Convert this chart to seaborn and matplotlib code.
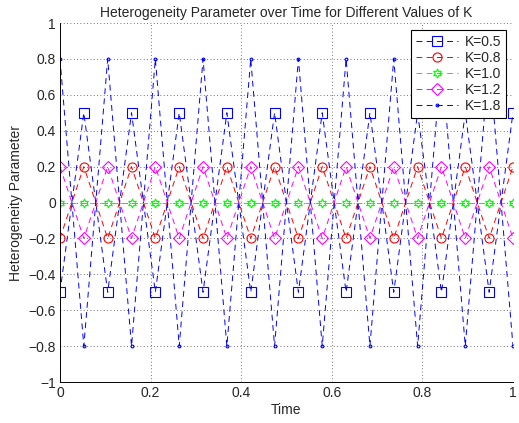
import numpy as np
import pandas as pd
import seaborn as sns
import matplotlib.pyplot as plt

# time samples (20 points from 0 to 1)
tiempo = [0.0, 0.0526, 0.1053, 0.1579, 0.2105, 0.2632, 0.3158, 0.3684, 0.4211, 0.4737,
          0.5263, 0.5789, 0.6316, 0.6842, 0.7368, 0.7895, 0.8421, 0.8947, 0.9474, 1.0]

k_05 = [-0.5, 0.5, -0.5, 0.5, -0.5, 0.5, -0.5, 0.5, -0.5, 0.5,
        -0.5, 0.5, -0.5, 0.5, -0.5, 0.5, -0.5, 0.5, -0.5, 0.5]
k_08 = [-0.2, 0.2, -0.2, 0.2, -0.2, 0.2, -0.2, 0.2, -0.2, 0.2,
        -0.2, 0.2, -0.2, 0.2, -0.2, 0.2, -0.2, 0.2, -0.2, 0.2]
k_10 = [0.0, 0.0, 0.0, 0.0, 0.0, 0.0, 0.0, 0.0, 0.0, 0.0,
        0.0, 0.0, 0.0, 0.0, 0.0, 0.0, 0.0, 0.0, 0.0, 0.0]
k_12 = [0.2, -0.2, 0.2, -0.2, 0.2, -0.2, 0.2, -0.2, 0.2, -0.2,
        0.2, -0.2, 0.2, -0.2, 0.2, -0.2, 0.2, -0.2, 0.2, -0.2]
k_18 = [0.8, -0.8, 0.8, -0.8, 0.8, -0.8, 0.8, -0.8, 0.8, -0.8,
        0.8, -0.8, 0.8, -0.8, 0.8, -0.8, 0.8, -0.8, 0.8, -0.8]

etiquetas = ['K=0.5', 'K=0.8', 'K=1.0', 'K=1.2', 'K=1.8']
series = [k_05, k_08, k_10, k_12, k_18]

colores = ['#0000ff', '#ff0000', '#00ff00', '#ff00ff', '#0000ff']
marcadores = ['s', 'o', (6, 1, 0), 'D', '.']
tamanos = [6.5, 6.5, 6.5, 6, 4]

sns.set_style("white")
plt.rcParams['font.family'] = ['Liberation Sans', 'DejaVu Sans']
plt.rcParams['font.size'] = 10

fig = plt.figure(figsize=(5.19, 4.23), dpi=100)
ax = fig.add_axes([0.1156, 0.0969, 0.8728, 0.8487])

for nombre, valores, color, marca, tam in zip(etiquetas, series, colores, marcadores, tamanos):
    df = pd.DataFrame({'Time': tiempo, 'Valor': valores})
    sns.lineplot(data=df, x='Time', y='Valor', ax=ax, color=color, marker=marca,
                 markersize=tam, markerfacecolor='none', markeredgecolor=color,
                 markeredgewidth=0.8, linewidth=0.7, dashes=False, label=nombre,
                 estimator=None, sort=False)

for linea in ax.get_lines():
    linea.set_linestyle((0, (6, 4.5)))

ax.set_xlim(0, 1)
ax.set_ylim(-1, 1)
ax.set_xticks([0, 0.2, 0.4, 0.6, 0.8, 1])
ax.set_xticklabels(['0', '0.2', '0.4', '0.6', '0.8', '1'])
yt = [-1, -0.8, -0.6, -0.4, -0.2, 0, 0.2, 0.4, 0.6, 0.8, 1]
ax.set_yticks(yt)
ax.set_yticklabels(['\u22121', '\u22120.8', '\u22120.6', '\u22120.4', '\u22120.2', '0',
                    '0.2', '0.4', '0.6', '0.8', '1'])
ax.grid(True, linestyle=(0, (1, 3)), color='#444444', linewidth=0.6)
ax.tick_params(direction='in', length=3, width=0.6, labelsize=10, pad=3)
sns.despine(ax=ax, top=True, right=True)
for s in ['left', 'bottom']:
    ax.spines[s].set_color('black')
    ax.spines[s].set_linewidth(0.7)

ax.set_title('Heterogeneity Parameter over Time for Different Values of K', fontsize=10, pad=4)
ax.set_xlabel('Time', fontsize=10, labelpad=2)
ax.set_ylabel('Heterogeneity Parameter', fontsize=10, labelpad=4)

leg = ax.legend(loc='upper right', fancybox=False, framealpha=1, edgecolor='black',
                handlelength=3.0, fontsize=10, borderaxespad=0.5, labelspacing=0.15,
                handletextpad=0.5, borderpad=0.35)
leg.get_frame().set_linewidth(0.8)

fig.savefig('out.png', dpi=100)
